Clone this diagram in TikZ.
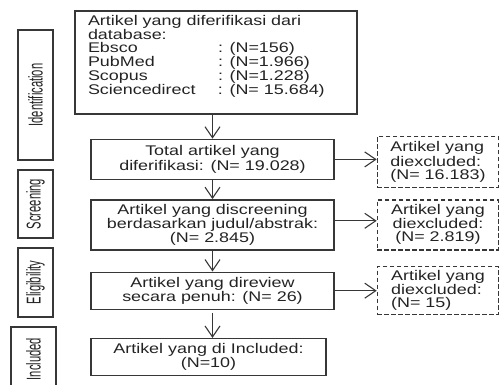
\documentclass[tikz,border=0pt]{standalone}
\usepackage{fontspec}
\setmainfont{Liberation Sans}[FakeStretch=1.28]
\newfontfamily\sidefont{Liberation Sans}[FakeStretch=0.56]
\usepackage{tikz}
\usetikzlibrary{arrows.meta,positioning}
\definecolor{ln}{RGB}{55, 55, 55}
\definecolor{txt}{RGB}{35, 35, 35}
\tikzstyle{flow} = [rectangle, draw=ln, line width=1.4pt, fill=none, text=txt, align=center, font=\fontsize{14}{13}\selectfont, inner sep=2pt, minimum width=243pt]
\tikzstyle{drop} = [flow, dash pattern=on 4.5pt off 2.5pt, line width=1.5pt, minimum width=121pt]
\tikzstyle{stage} = [rectangle, draw=ln, line width=1.4pt, fill=none, text=txt, rotate=90, font=\sidefont\fontsize{20}{20}\selectfont, minimum height=35pt]
\tikzstyle{tedge}  = [draw=ln, line width=1.1pt, -{Straight Barb[length=11pt,width=15pt]}]

\begin{document}
\begin{tikzpicture}[x=1pt, y=-1pt]
\useasboundingbox (0,0) rectangle (500,385);

% main flow =============================
\node[flow, inner xsep=13pt, inner ysep=4pt] (db) at (216,62.5) {\parbox[c][95pt][t]{256pt}{Artikel yang diferifikasi dari\\
database:\\
\makebox[130pt][l]{Ebsco}: (N=156)\\
\makebox[130pt][l]{PubMed}: (N=1.966)\\
\makebox[130pt][l]{Scopus}: (N=1.228)\\
\makebox[130pt][l]{Sciencedirect}: (N= 15.684)}};
\node[flow, minimum height=40pt, below=24pt of db, xshift=-3.5pt] (tot) {Total artikel yang\\ diferifikasi: (N= 19.028)};
\node[flow, minimum height=50pt, below=19pt of tot] (scr) {Artikel yang discreening\\ berdasarkan judul/abstrak:\\ (N= 2.845)};
\node[flow, minimum height=37pt, below=21pt of scr] (rev) {Artikel yang direview\\ secara penuh: (N= 26)};
\node[flow, minimum height=37pt, minimum width=235pt, below=28pt of rev, xshift=-4pt] (inc) {Artikel yang di Included:\\ (N=10)};

% excluded =============================
\node[drop, align=left, minimum height=51pt, right=42pt of tot, yshift=-2.5pt] (ex1) {Artikel yang\\ diexcluded:\\ (N= 16.183)};
\node[drop, minimum height=50pt, right=42pt of scr] (ex2) {Artikel yang\\ diexcluded:\\ (N= 2.819)};
\node[drop, align=left, minimum height=48pt, right=42pt of rev] (ex3) {Artikel yang\\ diexcluded:\\ (N= 15)};

% stages
\node[stage, minimum width=130pt] (idf) at (35.5,95) {Identification};
\node[stage, minimum width=68pt] (scrn) at (35.5,204) {Screening};
\node[stage, minimum width=69pt] (elig) at (35.5,282.5) {Eligibility};
\node[stage, minimum width=64pt, minimum height=45pt] (incl) at (33.5,359) {Included};

% edges
\path[tedge] (tot.north |- db.south) -- (tot.north);
\path[tedge] (tot) -- (scr);
\path[tedge] (scr) -- (rev);
\path[tedge] ([yshift=-3pt]rev.south) -- (rev.south |- inc.north);
\path[tedge] (tot.east) -- (tot.east -| ex1.west);
\path[tedge] ([yshift=4pt]scr.east) -- ([yshift=4pt]scr.east -| ex2.west);
\path[tedge] (rev.east) -- (rev.east -| ex3.west);

\end{tikzpicture}
\end{document}
